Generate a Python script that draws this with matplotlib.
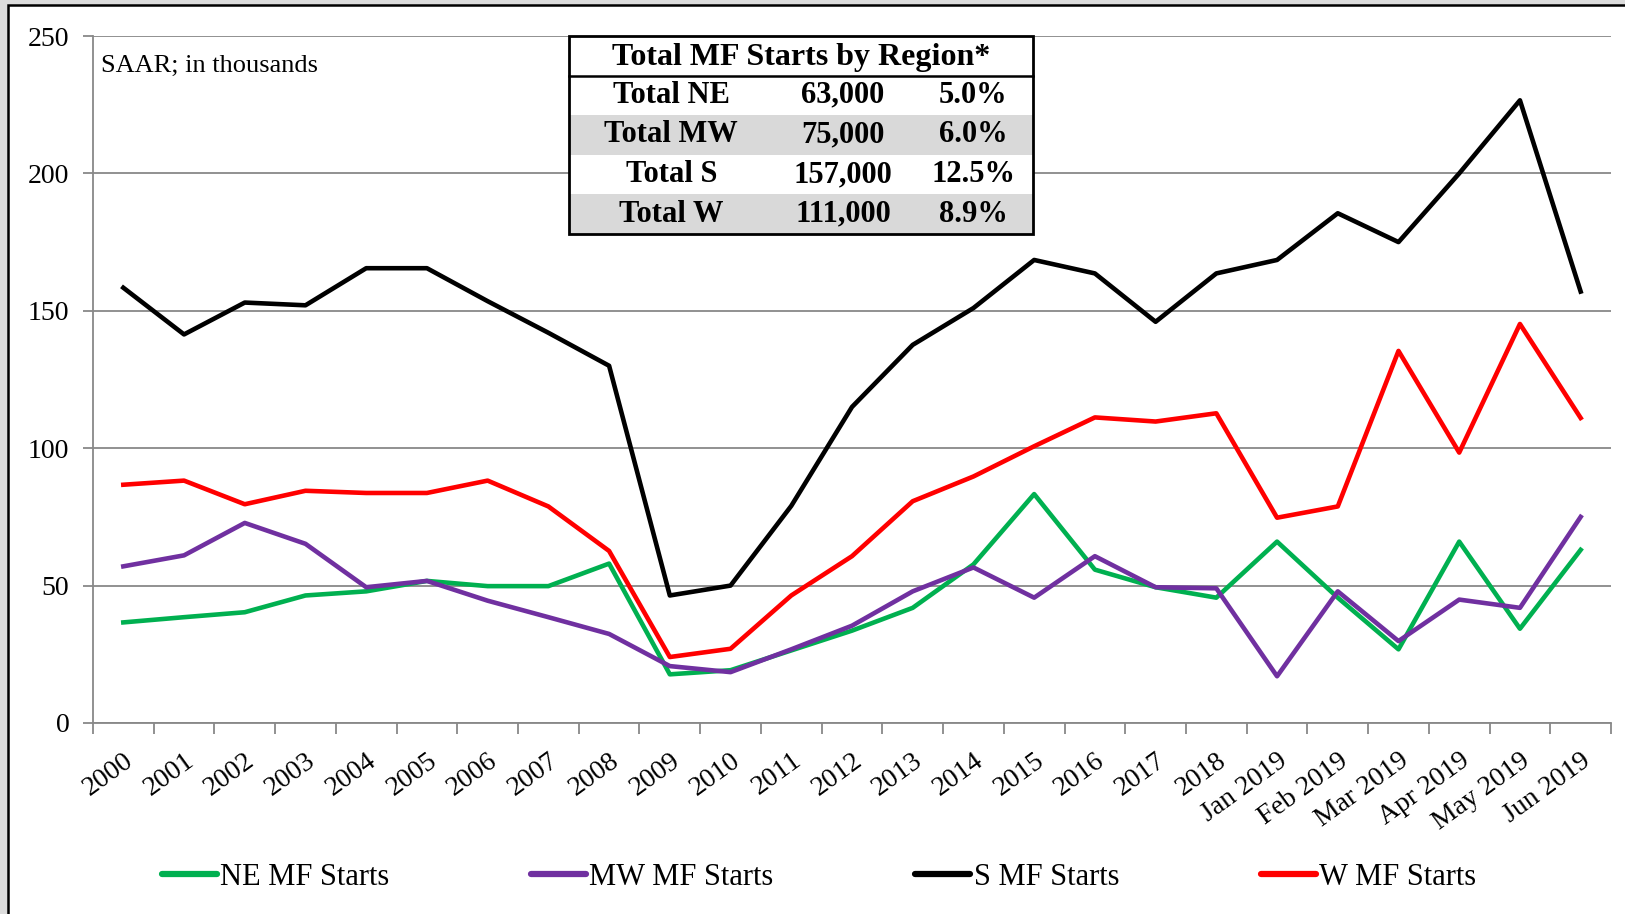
import matplotlib.pyplot as plt
from matplotlib.patches import Rectangle
import numpy as np

# data (SAAR, thousands)
labels = ["2000", "2001", "2002", "2003", "2004", "2005", "2006", "2007", "2008",
          "2009", "2010", "2011", "2012", "2013", "2014", "2015", "2016", "2017",
          "2018", "Jan 2019", "Feb 2019", "Mar 2019", "Apr 2019", "May 2019", "Jun 2019"]

ne = [36.6, 38.5, 40.3, 46.4, 47.9, 51.7, 49.8, 49.8, 58, 17.7, 19.2, 26.4, 33.6,
      41.9, 57.7, 83.3, 55.8, 49.4, 45.6, 66, 45.6, 26.8, 66, 34.3, 63]
mw = [57, 61, 72.8, 65.2, 49.4, 51.7, 44.5, 38.5, 32.4, 20.7, 18.5, 26.8, 35.4,
      47.9, 56.6, 45.6, 60.7, 49.4, 49, 17, 47.9, 29.8, 44.9, 41.9, 75]
s = [158.4, 141.4, 153, 152, 165.5, 165.5, 153.5, 142, 130, 46.4, 50, 79, 115,
     137.6, 151, 168.5, 163.6, 146, 163.6, 168.5, 185.5, 175, 200, 226.6, 157]
w = [86.7, 88.2, 79.6, 84.5, 83.7, 83.7, 88.2, 78.8, 62.6, 24, 27, 46.4, 60.7,
     80.7, 89.7, 100.7, 111.2, 109.7, 112.7, 74.7, 78.8, 135.4, 98.4, 145.2, 111]

table_title = "Total MF Starts by Region*"
table_rows = ["Total NE", "Total MW", "Total S", "Total W"]
table_counts = ["63,000", "75,000", "157,000", "111,000"]
table_pcts = ["5.0%", "6.0%", "12.5%", "8.9%"]

plt.rcParams['font.family'] = ['Liberation Serif', 'DejaVu Serif']

fig = plt.figure(figsize=(16.25, 9.14), dpi=100, facecolor='#dcdcdc')
# white frame with black border
frame = Rectangle((8 / 1625, -0.02), 1.05, 1 - 5 / 914 + 0.02,
                  transform=fig.transFigure, facecolor='white',
                  edgecolor='black', linewidth=1.8, zorder=-10)
fig.patches.append(frame)

ax = fig.add_axes([0.0572, 0.209, 0.9342, 0.7516])
ax.set_facecolor('none')

x = np.arange(len(labels))
ax.plot(x, ne, color='#00b050', lw=3.3, label='NE MF Starts', solid_joinstyle='round')
ax.plot(x, mw, color='#7030a0', lw=3.3, label='MW MF Starts', solid_joinstyle='round')
ax.plot(x, s, color='black', lw=3.3, label='S MF Starts', solid_joinstyle='round')
ax.plot(x, w, color='#ff0000', lw=3.3, label='W MF Starts', solid_joinstyle='round')

ax.set_xlim(-0.5, len(labels) - 0.5)
ax.set_ylim(0, 250)
ax.set_yticks(np.arange(0, 251, 50))
ax.yaxis.grid(True, color='#888888', lw=1.3)
ax.set_axisbelow(True)

ax.set_xticks(x)
ax.set_xticklabels(labels, rotation=36, ha='right', rotation_mode='anchor', fontsize=20)
ax.tick_params(axis='x', length=0, pad=18)
ax.set_xticks(np.arange(-0.5, len(labels), 1), minor=True)
ax.tick_params(axis='x', which='minor', length=8, width=1.3, color='#888888', direction='out')
ax.tick_params(axis='y', length=7, width=1.3, color='#888888', labelsize=20, pad=10)

for sp in ['top', 'right']:
    ax.spines[sp].set_visible(False)
for sp in ['left', 'bottom']:
    ax.spines[sp].set_color('#888888')
    ax.spines[sp].set_linewidth(1.3)

ax.text(0.005, 0.972, "SAAR; in thousands", transform=ax.transAxes, fontsize=19,
        ha='left', va='top')

# table box
tx0, tx1 = 0.3136, 0.619
ty_top, ty_bot = 1.0, 0.712
row_h = (ty_top - ty_bot) / 5
ax.add_patch(Rectangle((tx0, ty_bot), tx1 - tx0, ty_top - ty_bot, transform=ax.transAxes,
                       facecolor='white', edgecolor='none', zorder=3, clip_on=False))
for i in range(4):
    yb = ty_top - row_h * (i + 2)
    if i % 2 == 1:
        ax.add_patch(Rectangle((tx0, yb), tx1 - tx0, row_h, transform=ax.transAxes,
                               facecolor='#d9d9d9', edgecolor='none', zorder=4))
    ax.text(0.381, yb + row_h / 2, table_rows[i], transform=ax.transAxes, fontsize=22,
            fontweight='bold', ha='center', va='center', zorder=5)
    ax.text(0.494, yb + row_h / 2, table_counts[i], transform=ax.transAxes, fontsize=22,
            fontweight='bold', ha='center', va='center', zorder=5)
    ax.text(0.580, yb + row_h / 2, table_pcts[i], transform=ax.transAxes, fontsize=22,
            fontweight='bold', ha='center', va='center', zorder=5)
ax.text((tx0 + tx1) / 2, ty_top - row_h / 2 - 0.003, table_title, transform=ax.transAxes,
        fontsize=23, fontweight='bold', ha='center', va='center', zorder=5)
ax.plot([tx0, tx1], [ty_top - row_h, ty_top - row_h], transform=ax.transAxes,
        color='black', lw=1.8, zorder=6, clip_on=False)
ax.add_patch(Rectangle((tx0, ty_bot), tx1 - tx0, ty_top - ty_bot, transform=ax.transAxes,
                       facecolor='none', edgecolor='black', lw=2, zorder=6, clip_on=False))

leg = fig.legend(loc='center', bbox_to_anchor=(0.504, 0.04), ncol=4, frameon=False,
                 fontsize=22, handlelength=1.8, handletextpad=0.1, columnspacing=4.65)
for line in leg.get_lines():
    line.set_linewidth(4.5)
    line.set_solid_capstyle('round')

fig.savefig('out.png', dpi=100, facecolor=fig.get_facecolor())
